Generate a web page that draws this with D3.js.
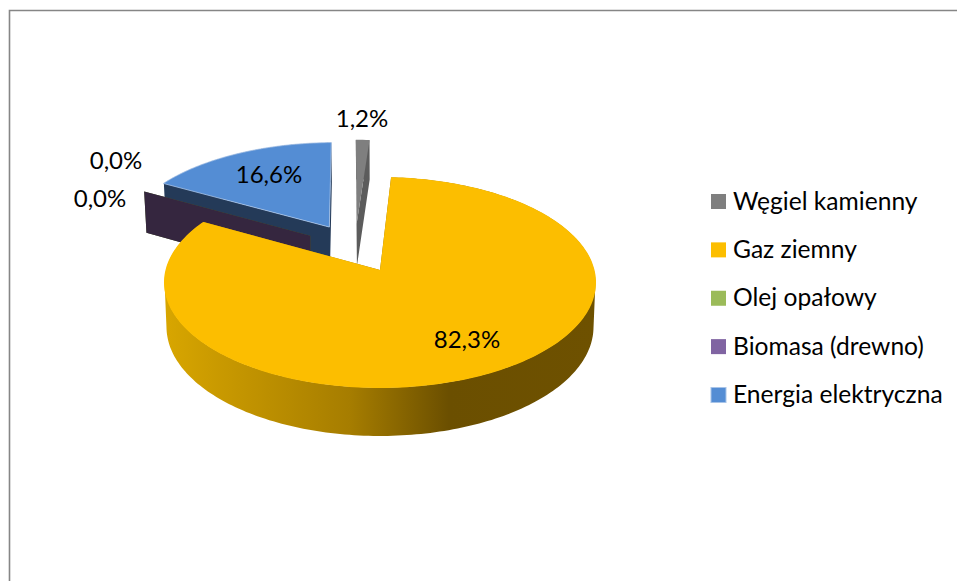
<!DOCTYPE html>
<html>
<head>
<meta charset="utf-8">
<script src="https://cdn.jsdelivr.net/npm/d3@7"></script>
<style>
  html, body { margin: 0; padding: 0; background: #fff; overflow: hidden; }
  text { font-family: Lato, "Open Sans", sans-serif; fill: #000; }
</style>
</head>
<body>
<script>
// ---- data ----
const categories = ["Węgiel kamienny", "Gaz ziemny", "Olej opałowy", "Biomasa (drewno)", "Energia elektryczna"];
const shares = [1.2, 82.3, 0.0, 0.0, 16.6];
const shareLabels = ["1,2%", "82,3%", "0,0%", "0,0%", "16,6%"];

// ---- styles ----
const topColors = ["#7f7f7f", "#fcbe00", "#9bbb59", "#8064a2", "#548dd4"];
const wallColors = ["#5c5c5c", "url(#gasWall)", "#4f6228", "#35263f", "#243a58"];
const labelPos = [[362, 127], [467, 348], [116, 169], [100, 207], [269, 183]];

const width = 957, height = 581;
const explode = 0.25;          // every slice is pulled out by a quarter of the radius
const firstAngle = -1 * Math.PI / 180;

// perspective of the disc: top face and bottom face, u/v are disc coordinates
const topFace = {cx: 380, cy: 270, a: 214.5, b: 104, k: 0.1185};
const bottomFace = {cx: 380, cy: 314, a: 212, b: 107.5, k: 0.1185};

function project(face, u, v) {
    const w = 1 + face.k * v;
    return [face.cx + face.a * u / w, face.cy - face.b * v / w];
}

const svg = d3.select("body").append("svg")
    .attr("width", width)
    .attr("height", height);

// frame, only top and left sides are in the crop
svg.append("path")
    .attr("d", `M9.5,${height}V10.5H${width}`)
    .attr("fill", "none")
    .attr("stroke", "#868686")
    .attr("stroke-width", 1.6);

const grad = svg.append("defs").append("linearGradient")
    .attr("id", "gasWall")
    .attr("gradientUnits", "userSpaceOnUse")
    .attr("x1", 165).attr("x2", 595).attr("y1", 0).attr("y2", 0);
[[0, "#d8a600"], [0.1, "#cc9c00"], [0.43, "#a67d00"], [0.66, "#6b4f00"], [1, "#6e5100"]].forEach(s => {
    grad.append("stop").attr("offset", s[0]).attr("stop-color", s[1]);
});

const pie = d3.pie().sort(null).value(d => d)
    .startAngle(firstAngle)
    .endAngle(firstAngle + 2 * Math.PI);
const slices = pie(shares);

const line = d3.line();

// centre of the pie before the slices are pulled out: gas sits with its own tip on (0,0)
const gas = slices[1];
const gasMid = (gas.startAngle + gas.endAngle) / 2;
const centre = [-explode * Math.sin(gasMid), -explode * Math.cos(gasMid)];

function tip(s) {
    const mid = (s.startAngle + s.endAngle) / 2;
    return [centre[0] + explode * Math.sin(mid), centre[1] + explode * Math.cos(mid)];
}

// points of a slice outline in disc coordinates
function rim(s) {
    const t = tip(s);
    const n = Math.max(2, Math.ceil((s.endAngle - s.startAngle) / 0.02));
    return d3.range(n + 1).map(i => {
        const a = s.startAngle + (s.endAngle - s.startAngle) * i / n;
        return [t[0] + Math.sin(a), t[1] + Math.cos(a)];
    });
}

function drawWall(s, i) {
    const t = tip(s), r = rim(s);
    // pull the upper edge a hair under the top face so no dark fringe shows round it
    const inner = p => [t[0] + (p[0] - t[0]) * 0.997, t[1] + (p[1] - t[1]) * 0.997];
    // one quad per segment, all wound the same way and in one path so there are no seams
    const wall = pts => d3.pairs(pts).map(([p, q]) => {
        const a = inner(p), b = inner(q);
        const quad = [
            project(topFace, a[0], a[1]),
            project(topFace, b[0], b[1]),
            project(bottomFace, q[0], q[1]),
            project(bottomFace, p[0], p[1])
        ];
        if (d3.polygonArea(quad) < 0) quad.reverse();
        return line(quad) + "Z";
    }).join("");

    svg.append("path")
        .attr("d", wall(r) + wall([t, r[0]]) + wall([t, r[r.length - 1]]))
        .attr("fill", wallColors[i]);
}

function drawTop(s, i) {
    const t = tip(s);
    const pts = [t].concat(rim(s)).map(p => project(topFace, p[0], p[1]));
    svg.append("path")
        .attr("d", line(pts) + "Z")
        .attr("fill", topColors[i])
        .attr("stroke", i === 4 ? "#a8c4e8" : "none")
        .attr("stroke-width", 0.8);
}

// back to front
drawWall(slices[0], 0);
drawTop(slices[0], 0);
drawWall(slices[4], 4);
drawWall(slices[2], 2);
drawWall(slices[3], 3);
drawTop(slices[4], 4);
drawWall(slices[1], 1);
drawTop(slices[1], 1);

// value labels
svg.selectAll(".share")
    .data(shareLabels)
    .join("text")
    .attr("class", "share")
    .attr("x", (d, i) => labelPos[i][0])
    .attr("y", (d, i) => labelPos[i][1])
    .attr("text-anchor", "middle")
    .attr("font-size", 24)
    .text(d => d);

// legend
const legendY = d3.scalePoint().domain(categories).range([201.5, 395]);
const legend = svg.selectAll(".legend")
    .data(categories)
    .join("g")
    .attr("class", "legend")
    .attr("transform", d => `translate(711,${legendY(d)})`);

legend.append("rect")
    .attr("y", -7.5)
    .attr("width", 15)
    .attr("height", 15)
    .attr("fill", (d, i) => topColors[i])
    .attr("stroke", (d, i) => i === 4 ? "#a8c4e8" : "none")
    .attr("stroke-width", 1);

legend.append("text")
    .attr("x", 22)
    .attr("y", 8)
    .attr("font-size", 24.6)
    .text(d => d);
</script>
</body>
</html>
